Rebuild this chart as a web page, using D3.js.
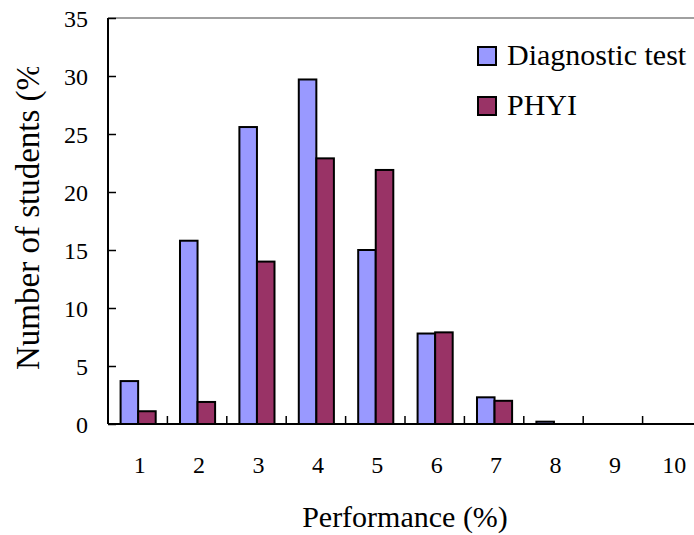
<!DOCTYPE html>
<html>
<head>
<meta charset="utf-8">
<script src="https://cdn.jsdelivr.net/npm/d3@7"></script>
</head>
<body style="margin:0">
<svg id="chart" width="694" height="535" font-family="Liberation Serif"></svg>
<script>
const categories = [1, 2, 3, 4, 5, 6, 7, 8, 9, 10];
const seriesNames = ["Diagnostic test", "PHYI"];
const diagnosticValues = [3.7, 15.8, 25.6, 29.7, 15.0, 7.8, 2.3, 0.2, 0, 0];
const phyiValues = [1.1, 1.9, 14.0, 22.9, 21.9, 7.9, 2.0, 0, 0, 0];
const yTicks = [0, 5, 10, 15, 20, 25, 30, 35];
const colors = ["#9999FF", "#993366"];
const xTitle = "Performance (%)";
const yTitle = "Number of students (%)";

const FONT = '"Liberation Serif"';
const svg = d3.select("#chart");
const W = 694, H = 535;
const plotL = 108, plotR = 702, plotT = 18, plotB = 424;

function serif(sel, size) {
  return sel.attr("font-family", "Liberation Serif").attr("font-size", size)
    .style("font-family", FONT).style("font-size", size + "px");
}

const x0 = d3.scaleBand().domain(categories).range([plotL, plotR]).paddingInner(0).paddingOuter(0);
const x1 = d3.scaleBand().domain(seriesNames)
  .range([x0.bandwidth() * 0.212, x0.bandwidth() * 0.803]).padding(0);
const y = d3.scaleLinear().domain([0, 35]).range([plotB, plotT]);

const seriesValues = [diagnosticValues, phyiValues];
const rows = categories.map((c, i) => ({ c, vals: seriesNames.map((s, j) => ({ s, j, v: seriesValues[j][i] })) }));

svg.append("line").attr("x1", plotL).attr("x2", W).attr("y1", plotT).attr("y2", plotT)
  .attr("stroke", "#808080").attr("stroke-width", 1.5);

const g = svg.append("g");
g.selectAll("g.cat").data(rows).join("g").attr("class", "cat")
  .attr("transform", d => `translate(${x0(d.c)},0)`)
  .selectAll("rect").data(d => d.vals.filter(v => v.v > 0)).join("rect")
  .attr("x", d => x1(d.s))
  .attr("width", x1.bandwidth())
  .attr("y", d => y(d.v))
  .attr("height", d => y(0) - y(d.v))
  .attr("fill", d => colors[d.j])
  .attr("stroke", "#000").attr("stroke-width", 2);

const yAxis = d3.axisLeft(y).tickValues(yTicks).tickSize(-8).tickPadding(20).tickFormat(d3.format("d"));
const ya = svg.append("g").attr("transform", `translate(${plotL},0)`).call(yAxis);
ya.attr("font-family", "Liberation Serif").attr("font-size", 24);
ya.select(".domain").attr("stroke", "#000").attr("stroke-width", 2).attr("d", `M0,${plotT}V${plotB}`);
ya.selectAll(".tick line").attr("stroke", "#000").attr("stroke-width", 1.5);
serif(ya.selectAll(".tick text"), 24).attr("fill", "#000").attr("dy", "0.35em");

const xBoundaries = categories.slice(1).map(c => x0(c));
const xa = svg.append("g").attr("transform", `translate(0,${plotB})`);
xa.append("line").attr("x1", plotL).attr("x2", W).attr("y1", 0).attr("y2", 0)
  .attr("stroke", "#000").attr("stroke-width", 2);
xa.selectAll("line.tk").data(xBoundaries).join("line").attr("class", "tk")
  .attr("x1", d => d).attr("x2", d => d).attr("y1", 0).attr("y2", -8)
  .attr("stroke", "#000").attr("stroke-width", 1.5);
serif(xa.selectAll("text.lbl").data(categories).join("text").attr("class", "lbl")
  .attr("x", d => x0(d) + x0.bandwidth() / 2 + 2)
  .attr("y", 49)
  .attr("text-anchor", "middle"), 24)
  .text(d => d);

serif(svg.append("text").attr("x", 405).attr("y", 527).attr("text-anchor", "middle"), 30).text(xTitle);

svg.append("clipPath").attr("id", "ytclip").append("rect")
  .attr("x", 0).attr("y", 67).attr("width", 80).attr("height", 400);
serif(svg.append("g").attr("clip-path", "url(#ytclip)")
  .append("text").attr("transform", "translate(39,370) rotate(-90)")
  .attr("text-anchor", "start"), 33).text(yTitle);

const lg = svg.append("g").selectAll("g").data(seriesNames).join("g")
  .attr("transform", (d, i) => `translate(478,${47 + i * 50})`);
lg.append("rect").attr("width", 18).attr("height", 18)
  .attr("fill", (d, i) => colors[i]).attr("stroke", "#000").attr("stroke-width", 2);
serif(lg.append("text").attr("x", 29).attr("y", 18), 30).text(d => d);
</script>
</body>
</html>
